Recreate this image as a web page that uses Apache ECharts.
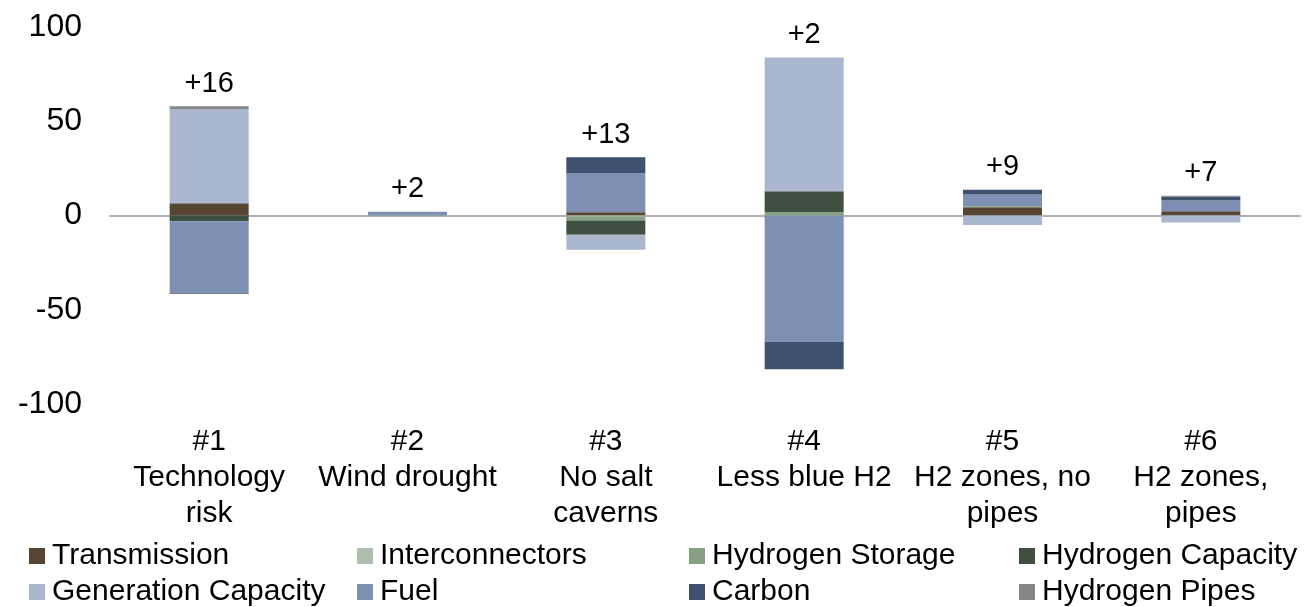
<!DOCTYPE html>
<html>
<head>
<meta charset="utf-8">
<script src="https://cdn.jsdelivr.net/npm/echarts@6/dist/echarts.min.js"></script>
<style>
  html, body { margin: 0; padding: 0; background: #fff; }
  #chart { width: 1310px; height: 607px; }
</style>
</head>
<body>
<div id="chart"></div>
<script>
// scenarios
var categories = ['#1\nTechnology\nrisk', '#2\nWind drought', '#3\nNo salt\ncaverns',
                  '#4\nLess blue H2', '#5\nH2 zones, no\npipes', '#6\nH2 zones,\npipes'];

// cost components (stacked, same order as the legend)
var transmission     = [6.5, 0, 1.7, 0, 4.4, 2.3];
var interconnectors  = [0, 0, -0.5, 0, 0, 0];
var hydrogenStorage  = [0, 0, -2.2, 1.8, 0.5, 0];
var hydrogenCapacity = [-3, 0, -7.5, 11, 0, 0];
var generationCap    = [50, 0, -8, 71, -5, -3.7];
var fuel             = [-38, 2, 20.7, -67, 6.2, 5.6];
var carbon           = [-0.5, 0, 8.5, -14.5, 2.5, 2];
var hydrogenPipes    = [1.5, 0, 0, 0, 0, 0.6];

// net change written above each bar
var totals = [16, 2, 13, 2, 9, 7];

var yTicks = [-100, -50, 0, 50, 100];

var font = 'Liberation Sans, Arial, sans-serif';

var comps = [
  { name: 'Transmission', data: transmission, color: '#574533' },
  { name: 'Interconnectors', data: interconnectors, color: '#aebfad' },
  { name: 'Hydrogen Storage', data: hydrogenStorage, color: '#879f82' },
  { name: 'Hydrogen Capacity', data: hydrogenCapacity, color: '#3f4f40' },
  { name: 'Generation Capacity', data: generationCap, color: '#abb7cf' },
  { name: 'Fuel', data: fuel, color: '#7d8fb2' },
  { name: 'Carbon', data: carbon, color: '#3f5071' },
  { name: 'Hydrogen Pipes', data: hydrogenPipes, color: '#868686' }
];

var series = comps.map(function (c) {
  return {
    name: c.name,
    type: 'bar',
    stack: 'cost',
    barWidth: 79,
    itemStyle: { color: c.color },
    emphasis: { disabled: true },
    data: c.data
  };
});

// top of positive stack, used to place the total labels
var posTop = categories.map(function (_, i) {
  var s = 0;
  comps.forEach(function (c) { if (c.data[i] > 0) s += c.data[i]; });
  return s;
});

series.push({
  name: 'total',
  type: 'scatter',
  symbolSize: 0,
  silent: true,
  itemStyle: { opacity: 1 },
  label: {
    show: true,
    position: 'top',
    distance: 8,
    color: '#000',
    fontFamily: font,
    fontSize: 29,
    formatter: function (p) { return '+' + totals[p.dataIndex]; }
  },
  data: posTop.map(function (v, i) { return [i, v]; })
});

var legendCols = [
  ['Transmission', 'Generation Capacity'],
  ['Interconnectors', 'Fuel'],
  ['Hydrogen Storage', 'Carbon'],
  ['Hydrogen Capacity', 'Hydrogen Pipes']
];
var legendLeft = [29, 357, 689, 1019];

var chart = echarts.init(document.getElementById('chart'));
chart.setOption({
  animation: false,
  textStyle: { fontFamily: font },
  grid: { left: 110, right: 10, top: 27, height: 377 },
  legend: legendCols.map(function (d, k) {
    return {
      data: d,
      orient: 'vertical',
      left: legendLeft[k],
      top: 541,
      height: 66,
      padding: 0,
      itemWidth: 16,
      itemHeight: 16,
      itemGap: 6,
      icon: 'rect',
      selectedMode: false,
      textStyle: { fontFamily: font, fontSize: 30, color: '#000', lineHeight: 30, padding: [0, 0, 0, 2] }
    };
  }),
  xAxis: [{
    type: 'category',
    data: categories,
    position: 'bottom',
    axisLine: { show: false, onZero: false },
    axisTick: { show: false },
    axisLabel: { color: '#000', fontSize: 30, lineHeight: 36, margin: 20, fontFamily: font, interval: 0 }
  }, {
    type: 'category',
    data: categories,
    axisLine: { show: true, onZero: true, lineStyle: { color: '#b0b0b0', width: 2 } },
    axisTick: { show: false },
    axisLabel: { show: false }
  }],
  yAxis: {
    type: 'value',
    min: yTicks[0],
    max: yTicks[yTicks.length - 1],
    interval: 50,
    axisLine: { show: false },
    axisTick: { show: false },
    splitLine: { show: false },
    axisLabel: { color: '#000', fontSize: 32, margin: 28, fontFamily: font }
  },
  series: series
});
</script>
</body>
</html>
